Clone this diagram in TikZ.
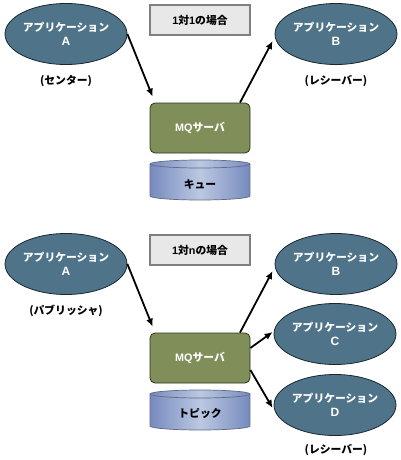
\documentclass[tikz,border=0pt]{standalone}
\usepackage{fontspec}
\setmainfont{Noto Sans CJK JP}
\newfontfamily\lat{Liberation Sans}
\newcommand\biglat[1]{{\lat\bfseries\fontsize{12}{14}\selectfont #1}}
\usetikzlibrary{arrows.meta,shapes.geometric}
\definecolor{appblue}{RGB}{79,116,138}
\definecolor{appedge}{RGB}{25,38,46}
\definecolor{mqgreen}{RGB}{128,143,90}
\definecolor{mqedge}{RGB}{45,52,32}
\definecolor{cylside}{RGB}{118,138,190}
\definecolor{cylmid}{RGB}{188,200,226}
\definecolor{cyledge}{RGB}{95,105,130}
\definecolor{titlefill}{RGB}{232,232,232}
\definecolor{titleedge}{RGB}{128,128,128}
\begin{document}
\begin{tikzpicture}[x=1pt,y=-1pt,
  jpfont/.style={font=\bfseries\fontsize{10.8}{16}\selectfont},
  app/.style={ellipse, draw=appedge, line width=0.8pt, fill=appblue, minimum width=122pt, minimum height=61pt, inner sep=0pt, text=white, align=center, jpfont},
  titlebox/.style={rectangle, draw=titleedge, line width=1.2pt, fill=titlefill, minimum width=100pt, minimum height=30pt, inner sep=0pt, jpfont},
  mqbox/.style={rectangle, rounded corners=5pt, draw=mqedge, line width=0.8pt, fill=mqgreen, minimum width=100pt, minimum height=50pt, inner sep=0pt, text=white, jpfont},
  lbl/.style={jpfont, inner sep=0pt},
  arr/.style={line width=1.8pt, -{Latex[length=8pt,width=7pt]}}
]
\useasboundingbox (0,0) rectangle (400,460);

% ---------- 1対1 ----------
\node[app] (A1) at (66,34) {\raisebox{-4.5pt}{\shortstack{アプリケーション\\[1.5pt]\biglat{A}}}};
\node[app] (B1) at (336,34) {\raisebox{-4.5pt}{\shortstack{アプリケーション\\[1.5pt]\biglat{B}}}};
\node[titlebox] (T1) at (200,20) {{\lat\bfseries 1}対{\lat\bfseries 1}の場合};
\node[lbl] (LA1) at (66,81) {(センター)};
\node[lbl] (LB1) at (336,81) {(レシーバー)};
\node[mqbox] (M1) at (200,128) {{\lat\bfseries MQ}サーバ};
\shadedraw[left color=cylside, right color=cylside, middle color=cylmid, draw=cyledge, line width=0.7pt]
  (150,164) -- (150,196) arc[start angle=180, end angle=0, x radius=50, y radius=4]
  -- (250,164) arc[start angle=0, end angle=-180, x radius=50, y radius=4] -- cycle;
\draw[cyledge, line width=0.7pt] (150,164) arc[start angle=180, end angle=0, x radius=50, y radius=4];
\node[lbl] (Q1) at (200,184) {キュー};
\draw[arr] (A1.east) -- ([shift={(3,-6)}]M1.north west);
\draw[arr] ([xshift=40pt]M1.north) -- ([shift={(-2,7)}]B1.west);

% ---------- 1対n ----------
\node[app] (A2) at (66,264) {\raisebox{-4.5pt}{\shortstack{アプリケーション\\[1.5pt]\biglat{A}}}};
\node[app] (B2) at (336,264) {\raisebox{-4.5pt}{\shortstack{アプリケーション\\[1.5pt]\biglat{B}}}};
\node[app] (C2) at (335,334) {\raisebox{-4.5pt}{\shortstack{アプリケーション\\[1.5pt]\biglat{C}}}};
\node[app] (D2) at (335,405) {\raisebox{-4.5pt}{\shortstack{アプリケーション\\[1.5pt]\biglat{D}}}};
\node[titlebox] (T2) at (200,250) {{\lat\bfseries 1}対{\lat\bfseries n}の場合};
\node[lbl] (LA2) at (66,311) {(パブリッシャ)};
\node[lbl] (LB2) at (336,450) {(レシーバー)};
\node[mqbox] (M2) at (200,358) {{\lat\bfseries MQ}サーバ};
\shadedraw[left color=cylside, right color=cylside, middle color=cylmid, draw=cyledge, line width=0.7pt]
  (150,394) -- (150,426) arc[start angle=180, end angle=0, x radius=50, y radius=4]
  -- (250,394) arc[start angle=0, end angle=-180, x radius=50, y radius=4] -- cycle;
\draw[cyledge, line width=0.7pt] (150,394) arc[start angle=180, end angle=0, x radius=50, y radius=4];
\node[lbl] (Q2) at (200,414) {トピック};
\draw[arr] (A2.east) -- ([shift={(3,-6)}]M2.north west);
\draw[arr] ([xshift=40pt]M2.north) -- ([shift={(-2,7)}]B2.west);
\draw[arr] ([yshift=10pt]M2.east) -- ([shift={(-1,-2)}]C2.west);
\draw[arr] ([yshift=-12pt]M2.east) -- ([shift={(-1,3)}]D2.west);
\end{tikzpicture}
\end{document}
